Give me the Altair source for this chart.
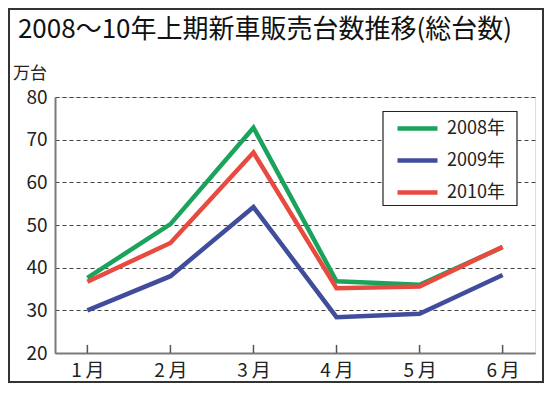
import altair as alt
import pandas as pd

months = ["1月", "2月", "3月", "4月", "5月", "6月"]
years = ["2008年", "2009年", "2010年"]
v2008 = [37.6, 50.2, 72.8, 36.8, 36.0, 44.8]
v2009 = [30.0, 38.0, 54.2, 28.4, 29.2, 38.3]
v2010 = [36.7, 45.8, 67.0, 35.2, 35.6, 44.9]
colors = ["#1aa35a", "#404c9c", "#e84a40"]
title_text = "2008～10年上期新車販売台数推移(総台数)"
unit_text = "万台"

rows = []
for yr, vals in zip(years, [v2008, v2009, v2010]):
    for m, v in zip(months, vals):
        rows.append({"month": m, "year": yr, "value": v})
df = pd.DataFrame(rows)

FONT = "Liberation Sans Narrow, Noto Sans CJK JP, sans-serif"
CJK = "Noto Sans CJK JP"

xscale = alt.Scale(type="point", domain=months, padding=0.39)
yscale = alt.Scale(domain=[20, 80], nice=False, zero=False)

base = alt.Chart(df)

lines = base.mark_line(strokeCap="butt", strokeJoin="miter").encode(
    x=alt.X("month:N", scale=xscale, sort=months,
            axis=alt.Axis(title=None, labelAngle=0, grid=False, ticks=False,
                          domainColor="#7a7a7a", domainWidth=2,
                          labelFontSize=19, labelFont=CJK, labelColor="#222",
                          labelPadding=8, labelAlign="center", labelBaseline="top",
                          labelExpr="replace(datum.label, '月', '\u2009月')")),
    y=alt.Y("value:Q", scale=yscale,
            axis=alt.Axis(title=None, values=[20, 30, 40, 50, 60, 70, 80],
                          ticks=False, grid=True, gridDash=[4, 3],
                          gridColor="#444", gridWidth=1.2,
                          domainColor="#7a7a7a", domainWidth=2,
                          labelFontSize=19, labelFont=FONT, labelColor="#222",
                          labelPadding=8)),
    color=alt.Color("year:N", scale=alt.Scale(domain=years, range=colors),
                    legend=alt.Legend(title=None, orient="none", legendX=350, legendY=19,
                                      symbolType="M-2,0H2", symbolSize=400,
                                      symbolStrokeWidth=5, labelFontSize=18,
                                      labelFont=FONT, labelColor="#222",
                                      rowPadding=10, labelOffset=17, padding=0)),
    strokeWidth=alt.StrokeWidth("year:N", scale=alt.Scale(domain=years, range=[4.5, 4.5, 6]), legend=None),
    order=alt.Order("year:N"),
)

ticks = alt.Chart(pd.DataFrame({"month": months, "lo": [20] * 6, "hi": [21.9] * 6})).mark_rule(
    color="#555", strokeWidth=1.5
).encode(
    x=alt.X("month:N", scale=xscale, sort=months, axis=None),
    y=alt.Y("lo:Q", scale=yscale, axis=None),
    y2="hi:Q",
)

one = pd.DataFrame({"t": [title_text], "u": [unit_text]})

legend_box = alt.Chart(one).mark_rect(fill="white", stroke="#222", strokeWidth=1.2).encode(
    x=alt.value(328), x2=alt.value(462), y=alt.value(14.5), y2=alt.value(108.5)
)

frame = alt.Chart(one).mark_rect(fill=None, stroke="#333", strokeWidth=2).encode(
    x=alt.value(-46), x2=alt.value(488), y=alt.value(-88), y2=alt.value(285)
)

title = alt.Chart(one).mark_text(fontSize=26, font=CJK, color="#111",
                                 align="center", baseline="middle").encode(
    text="t:N", x=alt.value(210), y=alt.value(-67)
)

unit = alt.Chart(one).mark_text(fontSize=17, font=CJK, color="#222", align="center",
                                baseline="middle").encode(
    text="u:N", x=alt.value(-25), y=alt.value(-23)
)

chart = alt.layer(lines, ticks, legend_box, frame, title, unit).resolve_axis(
    x="independent", y="independent"
).properties(
    width=480, height=256,
    padding={"left": 47, "top": 89, "right": 9, "bottom": 30},
    autosize=alt.AutoSizeParams(type="none"),
).configure_view(stroke=None).configure(background="white")

chart.save("out.html", embed_options={"renderer": "svg", "actions": False})
